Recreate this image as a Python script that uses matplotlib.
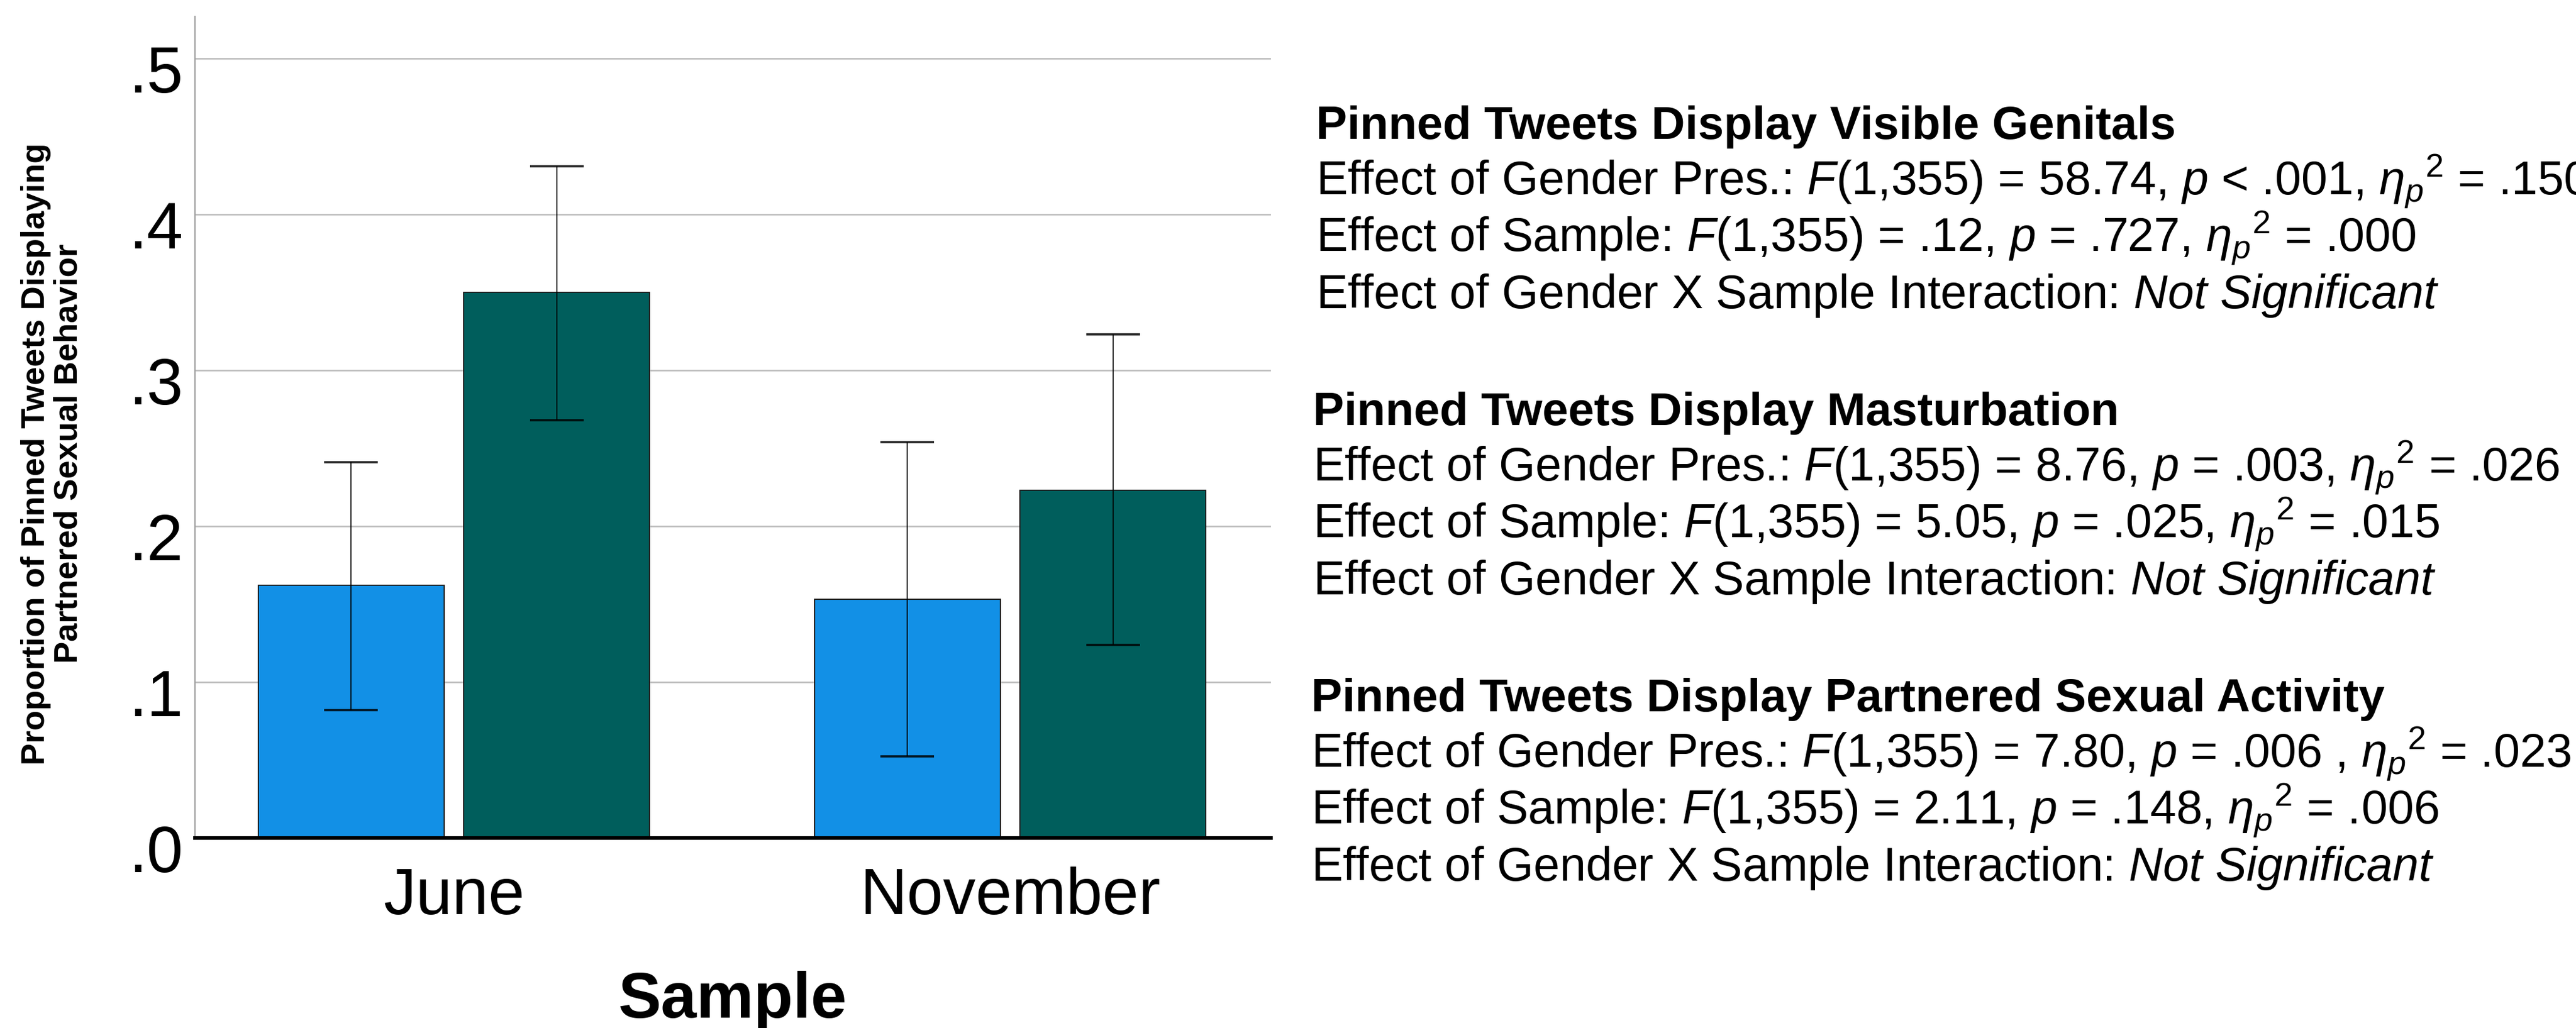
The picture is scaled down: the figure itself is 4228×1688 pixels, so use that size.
import matplotlib
matplotlib.use("Agg")
import matplotlib.pyplot as plt
import matplotlib.transforms as mtransforms
import numpy as np

plt.rcParams["font.family"] = ["Liberation Sans", "DejaVu Sans"]
plt.rcParams["mathtext.fontset"] = "custom"
plt.rcParams["mathtext.rm"] = "Liberation Sans"
plt.rcParams["mathtext.it"] = "Liberation Sans:italic"
plt.rcParams["mathtext.bf"] = "Liberation Sans:bold"

# proportions per sample, with 95% CI bounds
samples = ["June", "November"]
blue_mean = [0.162, 0.153]
blue_low = [0.082, 0.0525]
blue_high = [0.241, 0.254]
green_mean = [0.350, 0.223]
green_low = [0.268, 0.124]
green_high = [0.431, 0.323]

ytick_vals = [0.0, 0.1, 0.2, 0.3, 0.4, 0.5]
ytick_labels = [".0", ".1", ".2", ".3", ".4", ".5"]

ETA = r"$\eta_p{}^2$"
blocks = [
    ("Pinned Tweets Display Visible Genitals", [
        r"Effect of Gender Pres.: $F$(1,355) = 58.74, $p$ < .001, " + ETA + " = .150",
        r"Effect of Sample: $F$(1,355) = .12, $p$ = .727, " + ETA + " = .000",
        r"Effect of Gender X Sample Interaction: $Not$ $Significant$",
    ]),
    ("Pinned Tweets Display Masturbation", [
        r"Effect of Gender Pres.: $F$(1,355) = 8.76, $p$ = .003, " + ETA + " = .026",
        r"Effect of Sample: $F$(1,355) = 5.05, $p$ = .025, " + ETA + " = .015",
        r"Effect of Gender X Sample Interaction: $Not$ $Significant$",
    ]),
    ("Pinned Tweets Display Partnered Sexual Activity", [
        r"Effect of Gender Pres.: $F$(1,355) = 7.80, $p$ = .006 , " + ETA + " = .023",
        r"Effect of Sample: $F$(1,355) = 2.11, $p$ = .148, " + ETA + r" = $\mathit{.\!006}$",
        r"Effect of Gender X Sample Interaction: $Not$ $Significant$",
    ]),
]

W, H, DPI = 4228, 1688, 100
fig = plt.figure(figsize=(W / DPI, H / DPI), dpi=DPI)
ax = fig.add_axes([320 / W, 1 - 1376 / H, (2086 - 320) / W, (1376 - 27) / H])

x = np.arange(len(samples))
off, bw = 0.185, 0.334
blue, green = "#1290E6", "#005E5C"

def draw(xs, mean, low, high, color):
    mean = np.array(mean)
    err = [mean - np.array(low), np.array(high) - mean]
    ax.bar(xs, mean, bw, color=color, edgecolor="#1a1a1a", linewidth=1.4, zorder=2)
    ax.errorbar(xs, mean, yerr=err, fmt="none", ecolor="black", alpha=0.85,
                elinewidth=1.4, capsize=32, capthick=2.6, zorder=3)

draw(x - off, blue_mean, blue_low, blue_high, blue)
draw(x + off, green_mean, green_low, green_high, green)

ax.set_xlim(-0.4655, 1.4688)
ax.set_ylim(0, 0.527)
ax.set_yticks(ytick_vals)
ax.set_yticklabels(ytick_labels, fontsize=77)
ax.set_xticks(x)
ax.set_xticklabels(samples, fontsize=77)
ax.tick_params(axis="both", length=0)
ax.tick_params(axis="y", pad=14)
ax.tick_params(axis="x", pad=34)
shift = mtransforms.ScaledTranslation(0, -17 / DPI, fig.dpi_scale_trans)
for lab in ax.get_yticklabels():
    lab.set_transform(lab.get_transform() + shift)

ax.yaxis.grid(True, color="#BBBBBB", linewidth=1.8, zorder=0)
ax.set_axisbelow(True)
for side in ("top", "right"):
    ax.spines[side].set_visible(False)
ax.spines["left"].set_color("#A0A0A0")
ax.spines["left"].set_linewidth(1.6)
ax.spines["bottom"].set_color("black")
ax.spines["bottom"].set_linewidth(4.2)
ax.spines["bottom"].set_zorder(4)

fig.text(1203 / W, 1 - 1671 / H, "Sample", fontsize=76, fontweight="bold",
         ha="center", va="baseline")
fig.text(86 / W, 1 - 745 / H,
         "Proportion of Pinned Tweets Displaying\nPartnered Sexual Behavior",
         fontsize=39, fontweight="bold", rotation=90, ha="center", va="center",
         multialignment="center", linespacing=1.1)

# ANOVA summaries to the right of the chart
x_left = [2160, 2155, 2152]
head_base = [228, 698, 1168]
for (head, lines), xl, hb in zip(blocks, x_left, head_base):
    fig.text(xl / W, 1 - hb / H, head, fontsize=55, fontweight="bold", va="baseline")
    for i, line in enumerate(lines):
        fig.text(xl / W, 1 - (hb + 92 + 93 * i) / H, line, fontsize=55.5, va="baseline")

fig.savefig("out.png", dpi=DPI, facecolor="white")
